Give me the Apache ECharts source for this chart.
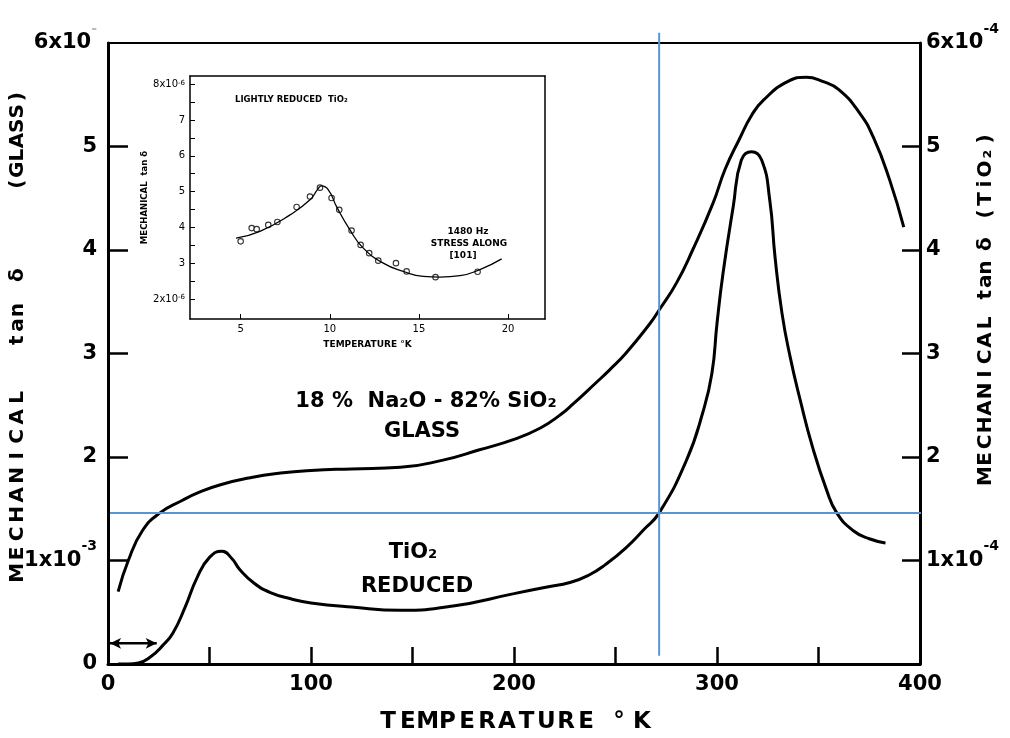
<!DOCTYPE html>
<html><head><meta charset="utf-8">
<script src="https://cdn.jsdelivr.net/npm/echarts@6/dist/echarts.min.js"></script>
<style>html,body{margin:0;padding:0;background:#fff}#c{width:1010px;height:738px}</style>
</head><body><div id="c"></div>
<script>
// ---- main chart data (temperature in K) ----
const glassT = [5,10,17,25.6,36.5,45,55,70,85,100,120,144,165,183,200,213,223,229,240,247,255,267,271.5,280,288,298,304,311,317,323,335,344,352,360,370,377,385,392];
const glassV = [0.70,1.00,1.29,1.46,1.58,1.66,1.73,1.80,1.845,1.87,1.885,1.90,1.97,2.07,2.17,2.28,2.41,2.51,2.71,2.84,3.00,3.29,3.42,3.68,4.00,4.45,4.78,5.07,5.30,5.45,5.63,5.67,5.63,5.55,5.33,5.09,4.68,4.22];
const tioT = [5,10,15,21,27,32,38,44,50,56,61,65,72,80,90,100,120,144,170,200,215,228,237,245,255,264,271.5,285,293,297.5,300,303,308,312,317,322,326,328.6,332,336,341,347,354,359,367,375,383];
const tioV = [0,0,0.01,0.07,0.18,0.30,0.55,0.84,1.03,1.09,1.02,0.91,0.78,0.69,0.63,0.59,0.55,0.52,0.56,0.68,0.74,0.79,0.86,0.96,1.12,1.30,1.46,1.97,2.43,2.81,3.29,3.78,4.42,4.87,4.95,4.87,4.48,3.93,3.39,2.97,2.55,2.10,1.68,1.46,1.29,1.21,1.17];
// blue reference lines
const refT = 271.5;
const refV = 1.46;
const refVLineY = [0.08, 6.10];
const refHLineT = [1, 403];
// double arrow (range marker)
const arrowT = [1, 24];
const arrowV = 0.2;
// tick labels
const xLabelVals = [0,100,200,300,400];
const xTickVals = [50,100,150,200,250,300,350];
const yLeftLabelVals = [0,1,2,3,4,5,6];
const yRightLabelVals = [1,2,3,4,5,6];
const yTickVals = [1,2,3,4,5];

// ---- inset data ----
const insetPtT = [5.0,5.62,5.90,6.55,7.06,8.14,8.89,9.45,10.10,10.53,11.22,11.73,12.21,12.72,13.71,14.31,15.93,18.29];
const insetPtV = [3.61,3.98,3.95,4.07,4.15,4.57,4.86,5.11,4.82,4.49,3.91,3.51,3.28,3.07,3.00,2.77,2.61,2.76];
const insetCurveT = [4.74,6.08,7.77,8.89,9.36,9.54,9.92,10.38,11.13,11.88,13.0,14.12,15.24,16.18,17.3,18.42,19.64];
const insetCurveV = [3.70,3.89,4.35,4.77,5.09,5.16,5.05,4.58,3.93,3.42,3.00,2.77,2.63,2.61,2.65,2.82,3.12];
const insetXLabels = [5,10,15,20];
const insetYLabels = [2,3,4,5,6,7,8];
const insetYTicks = [2,2.5,3,3.5,4,4.5,5,5.5,6,6.5,7,7.5,8];

const FF = 'DejaVu Sans';
const zip = (a,b) => a.map((v,i)=>[v,b[i]]);
function letters(word, key){ return Array.from(word).map(c => '{'+key+'|'+c+'}').join(''); }
const tstyle = (w, fs) => ({width:w, align:'center', fontSize:fs, fontWeight:'bold', fontFamily:FF, color:'#000'});

const leftTitle = letters('MECHANICAL','a') + '{g1| }' + letters('tan','b') + '{g2| }' + '{b|δ}' + '{g3| }' + letters('(GLASS)','c');
const leftRich = {a:tstyle(19.5,20), b:tstyle(15,20), c:tstyle(14.6,20), g1:{width:40}, g2:{width:20}, g3:{width:76}};
const rightTitle = letters('MECHANICAL','a') + '{g1| }' + letters('tan','b') + '{g2| }' + '{b|δ}' + '{g3| }' + letters('(TiO₂)','c');
const rightRich = {a:tstyle(17,20), b:tstyle(13.5,20), c:tstyle(15,20), g1:{width:13}, g2:{width:10}, g3:{width:16}};
const botTitle = letters('TEMPERATURE','a') + '{g1| }' + '{d|°}{e|K}';
const botRich = {a:tstyle(19.8,23), d:tstyle(18,23), e:tstyle(28,23), g1:{width:14}};

const numRich = {
  m:{fontSize:21,fontWeight:'bold',fontFamily:FF,lineHeight:42,color:'#000'},
  s:{fontSize:14,fontWeight:'bold',fontFamily:FF,lineHeight:14,verticalAlign:'top',color:'#000'},
  f:{fontSize:14,fontWeight:'bold',fontFamily:FF,lineHeight:14,verticalAlign:'top',color:'#bbb'}
};
const smallFont = {fontFamily:FF, color:'#000'};

const option = {
  animation:false,
  backgroundColor:'#fff',
  grid:[
    {left:108, right:90, top:43, bottom:74},
    {left:190, right:465, top:76, bottom:419}
  ],
  xAxis:[
    {type:'value', gridIndex:0, min:0, max:400, position:'bottom',
     axisLine:{lineStyle:{color:'#000', width:3}},
     axisTick:{inside:true, length:17, customValues:xTickVals, lineStyle:{color:'#000', width:2.5}},
     axisLabel:{customValues:xLabelVals, margin:10, fontSize:21, fontWeight:'bold', fontFamily:FF, color:'#000'},
     splitLine:{show:false}},
    {type:'value', gridIndex:0, min:0, max:400, position:'top',
     axisLine:{onZero:false, lineStyle:{color:'#000', width:2}},
     axisTick:{show:false}, axisLabel:{show:false}, splitLine:{show:false}},
    {type:'value', gridIndex:1, min:2.16, max:22.07, position:'bottom',
     name:'TEMPERATURE °K', nameLocation:'middle', nameGap:21,
     nameTextStyle:{fontSize:9, fontWeight:'bold', ...smallFont},
     axisLine:{lineStyle:{color:'#000', width:1.5}},
     axisTick:{inside:true, length:5, customValues:insetXLabels, lineStyle:{color:'#000', width:1}},
     axisLabel:{customValues:insetXLabels, margin:5, fontSize:10, ...smallFont},
     splitLine:{show:false}},
    {type:'value', gridIndex:1, min:2.16, max:22.07, position:'top',
     axisLine:{onZero:false, lineStyle:{color:'#000', width:1.5}},
     axisTick:{show:false}, axisLabel:{show:false}, splitLine:{show:false}}
  ],
  yAxis:[
    {type:'value', gridIndex:0, min:0, max:6, position:'left',
     axisLine:{show:true, lineStyle:{color:'#000', width:3}},
     axisTick:{show:true, inside:true, length:20, customValues:yTickVals, lineStyle:{color:'#000', width:2.5}},
     axisLabel:{customValues:yLeftLabelVals, margin:11,
       formatter:v => v===6 ? '{m|6x10}{f|-}' : v===1 ? '{m|1x10}{s|-3}' : '{m|'+v+'}', rich:numRich},
     splitLine:{show:false}},
    {type:'value', gridIndex:0, min:0, max:6, position:'right',
     axisLine:{show:true, onZero:false, lineStyle:{color:'#000', width:3}},
     axisTick:{show:true, inside:true, length:18, customValues:yTickVals, lineStyle:{color:'#000', width:2.5}},
     axisLabel:{customValues:yRightLabelVals, margin:6,
       formatter:v => v===6 ? '{m|6x10}{s|-4}' : v===1 ? '{m|1x10}{s|-4}' : '{m|'+v+'}', rich:numRich},
     splitLine:{show:false}},
    {type:'value', gridIndex:1, min:1.44, max:8.23, position:'left',
     name:'MECHANICAL  tan δ', nameLocation:'middle', nameGap:28, nameRotate:90,
     nameTextStyle:{fontSize:8.5, fontWeight:'bold', ...smallFont},
     axisLine:{show:true, lineStyle:{color:'#000', width:1.5}},
     axisTick:{show:true, inside:true, length:5, customValues:insetYTicks, lineStyle:{color:'#000', width:1}},
     axisLabel:{customValues:insetYLabels, margin:5, fontSize:10, ...smallFont,
       formatter:v => v===8 ? '8x10{s|-6}' : v===2 ? '2x10{s|-6}' : String(v),
       rich:{s:{fontSize:7, verticalAlign:'top', lineHeight:7, fontFamily:FF, color:'#000'}}},
     splitLine:{show:false}},
    {type:'value', gridIndex:1, min:1.44, max:8.23, position:'right',
     axisLine:{show:true, onZero:false, lineStyle:{color:'#000', width:1.5}},
     axisTick:{show:false}, axisLabel:{show:false}, splitLine:{show:false}}
  ],
  series:[
    {name:'Glass', type:'line', xAxisIndex:0, yAxisIndex:0, data:zip(glassT, glassV),
     smooth:0.5, showSymbol:false, lineStyle:{color:'#000', width:3}},
    {name:'TiO2 reduced', type:'line', xAxisIndex:0, yAxisIndex:1, data:zip(tioT, tioV),
     smooth:0.5, showSymbol:false, lineStyle:{color:'#000', width:3}},
    {name:'refV', type:'line', xAxisIndex:0, yAxisIndex:0, clip:false, showSymbol:false,
     data:[[refT, refVLineY[0]],[refT, refVLineY[1]]], lineStyle:{color:'#5b95cf', width:2}},
    {name:'refH', type:'line', xAxisIndex:0, yAxisIndex:0, clip:false, showSymbol:false,
     data:[[refHLineT[0], refV],[refHLineT[1], refV]], lineStyle:{color:'#5b95cf', width:2}},
    {name:'range', type:'line', xAxisIndex:0, yAxisIndex:0, clip:false, showSymbol:true,
     data:[{value:[arrowT[0], arrowV], symbol:'arrow', symbolRotate:90, symbolSize:[8,11]},
           {value:[arrowT[1], arrowV], symbol:'arrow', symbolRotate:-90, symbolSize:[8,11]}],
     itemStyle:{color:'#000'}, lineStyle:{color:'#000', width:2.5}},
    {name:'insetCurve', type:'line', xAxisIndex:2, yAxisIndex:2, data:zip(insetCurveT, insetCurveV),
     smooth:0.5, showSymbol:false, lineStyle:{color:'#000', width:1.3}},
    {name:'insetPts', type:'scatter', xAxisIndex:2, yAxisIndex:2, data:zip(insetPtT, insetPtV),
     symbol:'circle', symbolSize:5.5, itemStyle:{color:'#fff', borderColor:'#000', borderWidth:1.1}}
  ],
  graphic:[
    {type:'text', x:18, y:336, rotation:Math.PI/2, style:{text:leftTitle, rich:leftRich, align:'center', verticalAlign:'middle'}},
    {type:'text', x:986, y:308, rotation:Math.PI/2, style:{text:rightTitle, rich:rightRich, align:'center', verticalAlign:'middle'}},
    {type:'text', x:517, y:722, style:{text:botTitle, rich:botRich, align:'center', verticalAlign:'middle'}},
    {type:'text', x:426, y:402, style:{text:'18 %  Na₂O - 82% SiO₂', fontSize:21, fontWeight:'bold', fontFamily:FF, fill:'#000', align:'center', verticalAlign:'middle'}},
    {type:'text', x:422, y:432, style:{text:'GLASS', fontSize:21, fontWeight:'bold', fontFamily:FF, fill:'#000', align:'center', verticalAlign:'middle'}},
    {type:'text', x:413, y:553, style:{text:'TiO₂', fontSize:21, fontWeight:'bold', fontFamily:FF, fill:'#000', align:'center', verticalAlign:'middle'}},
    {type:'text', x:417, y:587, style:{text:'REDUCED', fontSize:21, fontWeight:'bold', fontFamily:FF, fill:'#000', align:'center', verticalAlign:'middle'}},
    {type:'text', x:235, y:100, style:{text:'LIGHTLY REDUCED  TiO₂', fontSize:8.5, fontWeight:'bold', fontFamily:FF, fill:'#000', align:'left', verticalAlign:'middle'}},
    {type:'text', x:468, y:232, style:{text:'1480 Hz', fontSize:9, fontWeight:'bold', fontFamily:FF, fill:'#000', align:'center', verticalAlign:'middle'}},
    {type:'text', x:469, y:244, style:{text:'STRESS ALONG', fontSize:9, fontWeight:'bold', fontFamily:FF, fill:'#000', align:'center', verticalAlign:'middle'}},
    {type:'text', x:463, y:256, style:{text:'[101]', fontSize:9, fontWeight:'bold', fontFamily:FF, fill:'#000', align:'center', verticalAlign:'middle'}}
  ]
};
const chart = echarts.init(document.getElementById('c'));
chart.setOption(option);
</script>
</body></html>
